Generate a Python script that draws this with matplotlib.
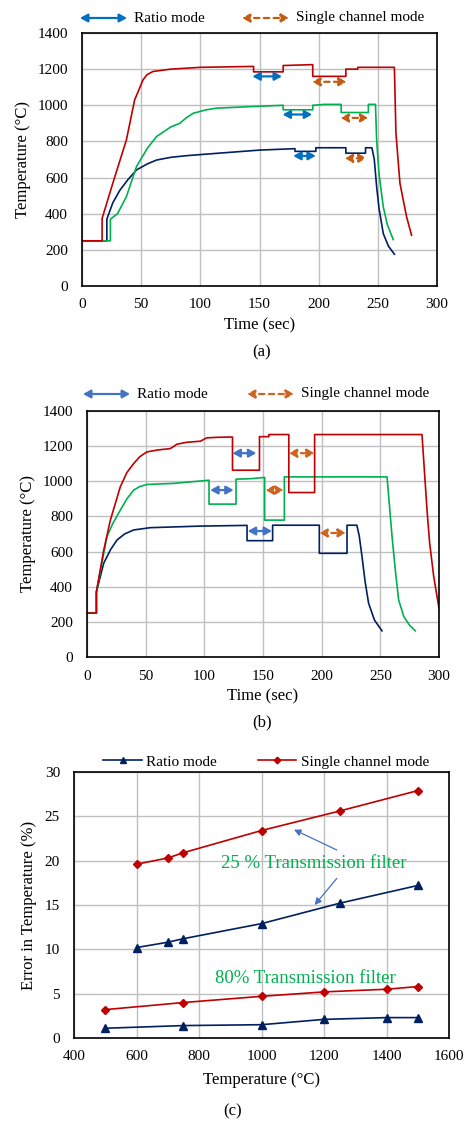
import matplotlib
matplotlib.use("Agg")
import matplotlib.pyplot as plt

plt.rcParams['font.family'] = ['Liberation Serif', 'DejaVu Serif']

# colours
RED = '#C00000'
GREEN = '#00B050'
NAVY = '#002060'

# ---- panel (a) data: time (s), temperature (C)
red_a_t = [0, 17, 17, 26, 37.5, 44.5, 51.6, 55, 60, 75, 100, 145, 145, 170, 170, 195, 195,
           223, 223, 233, 233, 264, 265.3, 268.7, 271.5, 274.3, 278.5]
red_a_T = [250, 250, 374, 568, 808, 1030, 1141, 1170, 1187, 1200, 1210, 1215, 1185, 1185, 1220,
           1225, 1160, 1160, 1200, 1200, 1210, 1210, 845, 568, 475, 383, 281]
green_a_t = [0, 24, 24, 30, 37.5, 46, 55, 63, 75, 82.6, 88, 94, 105, 113.6, 140, 170, 170, 195,
             195, 205, 219, 219, 242, 242, 248, 249, 251, 254.6, 258, 263]
green_a_T = [250, 250, 370, 400, 494, 660, 760, 827, 880, 900, 930, 956, 975, 984, 992, 1000,
             975, 975, 1000, 1005, 1005, 960, 960, 1005, 1005, 808, 620, 438, 340, 257]
navy_a_t = [0, 21, 21, 26, 32, 39, 46, 55, 63, 75, 88, 113.6, 150, 180, 180, 197.6, 197.6, 223,
            223, 239.6, 239.6, 245, 247, 249, 251, 254.6, 259, 264]
navy_a_T = [250, 250, 370, 460, 530, 590, 642, 675, 697, 712, 721, 734, 752, 760, 745, 745, 765,
            765, 735, 735, 765, 765, 700, 549, 430, 290, 220, 176]
# mode arrows (t_start, t_end, T)
ratio_a = [(144, 169, 1160), (169.5, 194.5, 949), (178.5, 197.6, 720)]
single_a = [(194.5, 223.6, 1130), (218.5, 242, 930), (222, 240.5, 707)]

# ---- panel (b) data
red_b_t = [0, 8, 8, 14, 19.9, 28.4, 34, 39.8, 45, 51, 60, 71, 76.7, 85, 96.6, 102, 110, 124, 124,
           147, 147, 155, 155, 172, 172, 194, 194, 285.5, 289.8, 292, 295.5, 300]
red_b_T = [250, 250, 370, 600, 779, 969, 1050, 1101, 1140, 1167, 1178, 1186, 1211, 1222, 1228,
           1247, 1250, 1252, 1063, 1063, 1254, 1254, 1266, 1266, 936, 936, 1266, 1266, 836, 650,
           458, 278]
green_b_t = [0, 8, 8, 17, 22, 28.4, 34, 39.8, 45, 51, 74, 104, 104, 127, 127, 140, 151.4, 151.4,
             168.2, 168.2, 255.7, 260, 263, 265.6, 270, 275, 279.8]
green_b_T = [250, 250, 370, 685, 760, 836, 900, 950, 970, 982, 988, 1006, 870, 870, 1012, 1015,
             1022, 779, 779, 1025, 1025, 685, 480, 325, 230, 180, 149]
navy_b_t = [0, 8, 8, 14.2, 20, 25.6, 32, 39.8, 54, 96.6, 136.4, 136.4, 158.2, 158.2, 198, 198,
            221.6, 221.6, 230, 232, 234.4, 237, 240, 245, 251.4]
navy_b_T = [250, 250, 370, 533, 610, 666, 700, 723, 736, 745, 749, 662, 662, 750, 750, 590, 590,
            750, 750, 690, 571, 430, 306, 210, 149]
ratio_b = [(124, 144.3, 1160), (105, 125, 950), (137, 157.7, 717)]
single_b = [(172, 194, 1160), (152, 167.6, 950), (198, 220.7, 706)]

# ---- panel (c) data
temp_25 = [600, 700, 750, 1000, 1250, 1500]
ratio_25 = [10.2, 10.8, 11.2, 12.9, 15.2, 17.2]
single_25 = [19.6, 20.3, 20.9, 23.4, 25.6, 27.9]
temp_80 = [500, 750, 1000, 1200, 1400, 1500]
ratio_80 = [1.1, 1.4, 1.5, 2.1, 2.3, 2.3]
single_80 = [3.2, 4.0, 4.7, 5.2, 5.5, 5.8]

W, H = 467, 1124
fig = plt.figure(figsize=(W / 100, H / 100), dpi=100)


def px(x, y):
    # pixel from top-left -> figure fraction
    return (x / W, 1 - y / H)


def box(l, t, r, b):
    return [l / W, 1 - b / H, (r - l) / W, (b - t) / H]


def style(ax):
    ax.grid(True, color='#BFBFBF', lw=1.0)
    ax.set_axisbelow(True)
    for s in ax.spines.values():
        s.set_color('black')
        s.set_linewidth(1.2)
    ax.tick_params(length=0, labelsize=11)
    ax.tick_params(axis='x', pad=9)
    ax.tick_params(axis='y', pad=10)


def darrow(ax, x0, x1, y, color, dashed=False, coords='data', lw=1.6):
    ax.annotate('', xy=(x1, y), xytext=(x0, y), xycoords=coords, textcoords=coords,
                annotation_clip=False,
                arrowprops=dict(arrowstyle='<|-|>,head_length=0.4,head_width=0.22',
                                color=color, lw=lw,
                                linestyle=(0, (2.4, 2.0)) if dashed else '-',
                                mutation_scale=11, shrinkA=0, shrinkB=0))


def time_panel(rect, curves, ratio, single, blue, orange, leg_y, leg_x, label, label_y):
    ax = fig.add_axes(rect)
    style(ax)
    for t, T, c in curves:
        ax.plot(t, T, color=c, lw=1.2)
    for x0, x1, y in ratio:
        darrow(ax, x0, x1, y, blue)
    for x0, x1, y in single:
        darrow(ax, x0, x1, y, orange, dashed=True)
    ax.set_xlim(0, 300)
    ax.set_ylim(0, 1400)
    ax.set_xticks(range(0, 301, 50))
    ax.set_yticks(range(0, 1401, 200))
    ax.set_xlabel('Time (sec)', fontsize=12, labelpad=4)
    ax.set_ylabel('Temperature (°C)', fontsize=12, labelpad=5)
    # legend drawn as arrows in figure coords
    a0, a1, a2, a3 = leg_x
    darrow(ax, px(a0, leg_y)[0], px(a1, leg_y)[0], px(0, leg_y)[1], blue,
           coords='figure fraction')
    fig.text(*px(a1 + 7, leg_y), 'Ratio mode', fontsize=11, va='center')
    darrow(ax, px(a2, leg_y)[0], px(a3, leg_y)[0], px(0, leg_y)[1], orange, dashed=True,
           coords='figure fraction')
    fig.text(*px(a3 + 7, leg_y), 'Single channel mode', fontsize=11, va='center')
    fig.text(*px(262, label_y), label, fontsize=12, ha='center', va='center')
    return ax


time_panel(box(82, 33, 437, 286),
           [(navy_a_t, navy_a_T, NAVY), (green_a_t, green_a_T, GREEN), (red_a_t, red_a_T, RED)],
           ratio_a, single_a, '#0070C0', '#C55A11', 18, (80, 127, 242, 289), '(a)', 352)

time_panel(box(87, 411, 439, 657),
           [(navy_b_t, navy_b_T, NAVY), (green_b_t, green_b_T, GREEN), (red_b_t, red_b_T, RED)],
           ratio_b, single_b, '#4472C4', '#D0641E', 394, (83, 130, 247, 294), '(b)', 722)

# ---- panel (c)
axc = fig.add_axes(box(74, 772, 449, 1038))
style(axc)
axc.plot(temp_25, ratio_25, color=NAVY, lw=1.2, marker='^', ms=6, label='Ratio mode')
axc.plot(temp_25, single_25, color=RED, lw=1.2, marker='D', ms=4.5, label='Single channel mode')
axc.plot(temp_80, ratio_80, color=NAVY, lw=1.2, marker='^', ms=6)
axc.plot(temp_80, single_80, color=RED, lw=1.2, marker='D', ms=4.5)
axc.set_xlim(400, 1600)
axc.set_ylim(0, 30)
axc.set_xticks(range(400, 1601, 200))
axc.set_yticks(range(0, 31, 5))
axc.set_xlabel('Temperature (°C)', fontsize=12, labelpad=6)
axc.set_ylabel('Error in Temperature (%)', fontsize=12, labelpad=6)
axc.legend(loc='lower center', bbox_to_anchor=(0.513, 0.99), ncol=2, frameon=False,
           fontsize=11, handlelength=2.5, handletextpad=0.3, columnspacing=2.7,
           markerscale=0.75, borderaxespad=0)
axc.text(869, 19.7, '25 % Transmission filter', color=GREEN, fontsize=13.5, va='center')
axc.text(850, 6.7, '80% Transmission filter', color=GREEN, fontsize=13.5, va='center')
for (x0, y0), (x1, y1) in [((1241, 21.2), (1104, 23.5)), ((1241, 18.0), (1170, 15.0))]:
    axc.annotate('', xy=(x1, y1), xytext=(x0, y0),
                 arrowprops=dict(arrowstyle='-|>', color='#4472C4', lw=0.9,
                                 mutation_scale=10, shrinkA=0, shrinkB=0))
fig.text(*px(233, 1111), '(c)', fontsize=12, ha='center', va='center')

fig.savefig('out.png', dpi=100)
